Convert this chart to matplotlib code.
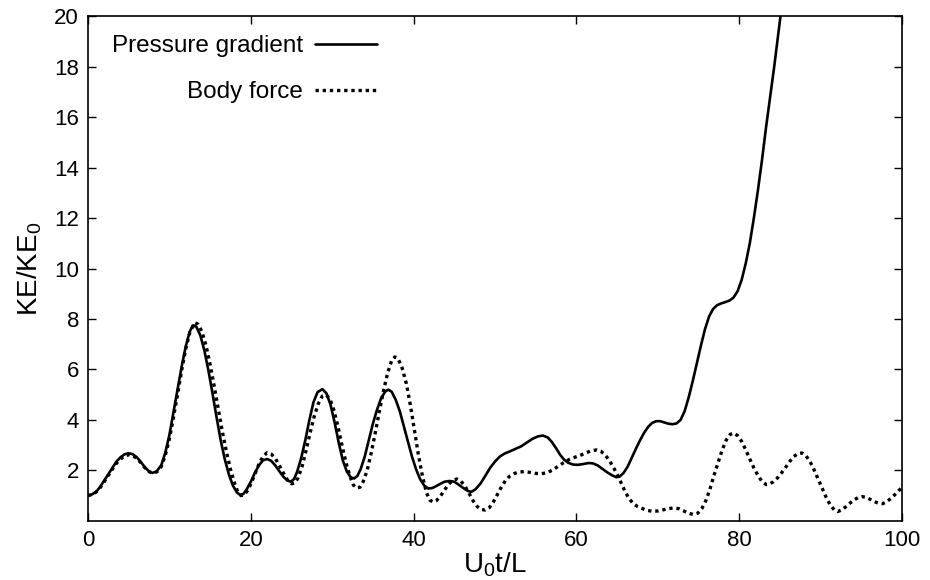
import matplotlib
matplotlib.use("Agg")
import matplotlib.pyplot as plt

plt.rcParams['font.family'] = ['Liberation Sans', 'DejaVu Sans']
plt.rcParams['mathtext.fontset'] = 'custom'
plt.rcParams['mathtext.rm'] = 'Liberation Sans'
plt.rcParams['mathtext.it'] = 'Liberation Sans'

# Pressure gradient (solid)
pg_t = [0, 0.5, 1, 1.5, 2, 2.5, 3, 3.5, 4, 4.5, 5, 5.5, 6, 6.5, 7, 7.5, 7.9, 8.4,
        9, 9.5, 10, 10.5, 11, 11.5, 12, 12.5, 12.9, 13.3, 13.8, 14.3, 14.8, 15.3,
        15.8, 16.3, 16.8, 17.3, 17.8, 18.3, 18.7, 19.1, 19.5, 20, 20.5, 21, 21.5,
        22, 22.5, 23, 23.5, 24, 24.5, 24.9, 25.3, 25.7, 26.2, 26.7, 27.2, 27.7,
        28.2, 28.8, 29.3, 29.8, 30.3, 30.8, 31.3, 31.8, 32.3, 32.7, 33.1, 33.5,
        34, 34.5, 35, 35.5, 36, 36.5, 36.9, 37.3, 37.8, 38.3, 38.8, 39.3, 39.8,
        40.3, 40.8, 41.3, 41.8, 42.3, 42.8, 43.3, 43.8, 44.4, 45, 45.6, 46.2,
        46.7, 47.1, 47.6, 48.2, 48.8, 49.4, 50, 50.6, 51.2, 51.8, 52.5, 53.2,
        53.9, 54.6, 55.3, 55.9, 56.5, 57, 57.5, 58, 58.5, 59, 59.6, 60.2, 60.8,
        61.5, 62, 62.6, 63.2, 63.8, 64.4, 64.9, 65.3, 65.8, 66.3, 66.8, 67.3,
        67.8, 68.3, 68.8, 69.3, 69.8, 70.3, 70.8, 71.3, 71.8, 72.3, 72.8, 73.3,
        73.8, 74.3, 74.8, 75.3, 75.8, 76.3, 76.8, 77.3, 77.8, 78.3, 78.8, 79.3,
        79.8, 80.3, 80.8, 81.3, 81.8, 82.3, 82.8, 83.3, 83.8, 84.3, 84.8, 85.3,
        86]
pg_ke = [1.0, 1.05, 1.15, 1.35, 1.6, 1.85, 2.1, 2.35, 2.52, 2.64, 2.68, 2.64,
         2.52, 2.33, 2.12, 1.96, 1.9, 1.95, 2.2, 2.7, 3.4, 4.3, 5.2, 6.1, 6.9,
         7.5, 7.75, 7.7, 7.35, 6.75, 5.95, 5.05, 4.1, 3.2, 2.45, 1.85, 1.4, 1.12,
         1.03, 1.07, 1.25, 1.55, 1.9, 2.2, 2.4, 2.45, 2.38, 2.2, 1.97, 1.75, 1.6,
         1.55, 1.65, 1.95, 2.5, 3.2, 4.0, 4.7, 5.1, 5.22, 5.05, 4.6, 3.9, 3.1,
         2.4, 1.95, 1.72, 1.68, 1.78, 2.05, 2.55, 3.2, 3.85, 4.4, 4.85, 5.12,
         5.2, 5.12, 4.8, 4.35, 3.75, 3.15, 2.55, 2.05, 1.65, 1.4, 1.28, 1.3,
         1.38, 1.47, 1.55, 1.58, 1.55, 1.42, 1.28, 1.18, 1.15, 1.25, 1.47, 1.78,
         2.1, 2.35, 2.55, 2.67, 2.75, 2.85, 2.95, 3.1, 3.25, 3.35, 3.38, 3.3,
         3.12, 2.88, 2.62, 2.42, 2.3, 2.23, 2.22, 2.25, 2.29, 2.28, 2.2, 2.06,
         1.92, 1.8, 1.73, 1.75, 1.9, 2.15, 2.5, 2.85, 3.18, 3.48, 3.72, 3.88,
         3.95, 3.95, 3.9, 3.85, 3.83, 3.86, 4.0, 4.35, 4.9, 5.55, 6.25, 6.95,
         7.6, 8.1, 8.4, 8.55, 8.62, 8.67, 8.73, 8.85, 9.1, 9.55, 10.2, 11.0,
         12.0, 13.1, 14.3, 15.6, 16.8, 18.0, 19.3, 20.6, 22.3]

# Body force (dotted)
bf_t = [0, 0.5, 1, 1.5, 2, 2.5, 3, 3.5, 4, 4.5, 5, 5.5, 6, 6.5, 7, 7.5, 8, 8.5,
        9, 9.5, 10, 10.5, 11, 11.5, 12, 12.5, 13.1, 13.5, 14, 14.5, 15, 15.5,
        16, 16.5, 17, 17.5, 18, 18.4, 18.8, 19.2, 19.6, 20, 20.5, 21, 21.5, 22,
        22.5, 23, 23.5, 24, 24.5, 25, 25.4, 25.8, 26.3, 26.8, 27.3, 27.8, 28.3,
        28.8, 29.2, 29.7, 30.2, 30.7, 31.2, 31.7, 32.2, 32.6, 33, 33.4, 33.8,
        34.3, 34.8, 35.3, 35.8, 36.3, 36.8, 37.3, 37.7, 38.1, 38.6, 39.1, 39.6,
        40.1, 40.6, 41.1, 41.6, 42, 42.4, 42.8, 43.3, 43.8, 44.3, 44.8, 45.3,
        45.8, 46.3, 46.8, 47.3, 47.8, 48.3, 48.8, 49.3, 49.8, 50.3, 50.8, 51.3,
        51.8, 52.4, 53, 53.6, 54.3, 55, 55.7, 56.3, 57, 57.7, 58.4, 59.1, 59.8,
        60.5, 61.2, 61.9, 62.5, 63, 63.5, 64, 64.5, 65, 65.5, 66, 66.5, 67,
        67.5, 68, 68.6, 69.3, 70, 70.7, 71.4, 72, 72.6, 73.2, 73.8, 74.4, 74.9,
        75.4, 75.9, 76.4, 76.9, 77.4, 77.9, 78.4, 78.9, 79.3, 79.8, 80.3, 80.8,
        81.3, 81.8, 82.3, 82.8, 83.3, 83.7, 84.2, 84.7, 85.2, 85.7, 86.2, 86.7,
        87.2, 87.7, 88.2, 88.7, 89.2, 89.7, 90.2, 90.7, 91.2, 91.7, 92.1, 92.6,
        93.1, 93.6, 94.1, 94.6, 95.1, 95.6, 96.1, 96.6, 97.1, 97.6, 98.1, 98.6,
        99.1, 99.6, 100]
bf_ke = [1.0, 1.04, 1.14, 1.32, 1.55, 1.8, 2.05, 2.28, 2.45, 2.57, 2.62, 2.58,
         2.48, 2.3, 2.1, 1.95, 1.88, 1.95, 2.15, 2.6, 3.25, 4.1, 5.0, 5.95, 6.8,
         7.45, 7.85, 7.8, 7.5, 6.95, 6.2, 5.35, 4.45, 3.55, 2.75, 2.05, 1.5,
         1.15, 1.0, 1.03, 1.2, 1.45, 1.85, 2.25, 2.55, 2.7, 2.65, 2.48, 2.2, 1.9,
         1.62, 1.47, 1.5, 1.7, 2.15, 2.8, 3.5, 4.15, 4.65, 4.95, 5.0, 4.85, 4.4,
         3.75, 3.0, 2.3, 1.75, 1.42, 1.3, 1.33, 1.55, 2.0, 2.7, 3.5, 4.35, 5.15,
         5.85, 6.35, 6.5, 6.42, 6.05, 5.45, 4.6, 3.6, 2.6, 1.75, 1.1, 0.82, 0.75,
         0.8, 0.98, 1.22, 1.45, 1.6, 1.66, 1.58, 1.38, 1.1, 0.8, 0.57, 0.45,
         0.43, 0.52, 0.75, 1.05, 1.35, 1.6, 1.77, 1.88, 1.94, 1.95, 1.92, 1.88,
         1.87, 1.9, 2.0, 2.15, 2.3, 2.43, 2.52, 2.6, 2.7, 2.78, 2.81, 2.76, 2.62,
         2.42, 2.15, 1.85, 1.5, 1.15, 0.87, 0.68, 0.57, 0.5, 0.42, 0.38, 0.39,
         0.44, 0.49, 0.51, 0.48, 0.39, 0.3, 0.25, 0.3, 0.48, 0.8, 1.25, 1.8, 2.3,
         2.8, 3.2, 3.43, 3.48, 3.38, 3.15, 2.82, 2.45, 2.1, 1.8, 1.56, 1.44,
         1.45, 1.55, 1.7, 1.9, 2.12, 2.35, 2.55, 2.66, 2.69, 2.58, 2.35, 2.02,
         1.65, 1.28, 0.92, 0.62, 0.43, 0.37, 0.43, 0.56, 0.7, 0.83, 0.92, 0.96,
         0.93, 0.85, 0.76, 0.7, 0.68, 0.75, 0.88, 1.03, 1.2, 1.32]

x_ticks = [0, 20, 40, 60, 80, 100]
y_ticks = [2, 4, 6, 8, 10, 12, 14, 16, 18, 20]

fig = plt.figure(figsize=(9.3, 5.8), dpi=100)
ax = fig.add_axes([0.0946, 0.102, 0.8753, 0.870])

ax.plot(pg_t, pg_ke, color='black', lw=1.9, label='Pressure gradient',
        solid_joinstyle='round', solid_capstyle='round')
ax.plot(bf_t, bf_ke, color='black', lw=2.4, linestyle=(0, (1.0, 1.15)),
        label='Body force')

ax.set_xlim(0, 100)
ax.set_ylim(0, 20)
ax.set_xticks(x_ticks)
ax.set_yticks(y_ticks)
ax.tick_params(direction='in', length=5.5, width=1, labelsize=16,
               top=True, right=True, pad=6.5)
for s in ax.spines.values():
    s.set_linewidth(1.2)

ax.set_xlabel(r'U$_0$t/L', fontsize=20, labelpad=0)
ax.set_ylabel(r'KE/KE$_0$', fontsize=20, labelpad=7)

ax.legend(loc='upper right', bbox_to_anchor=(0.355, 0.962), frameon=False,
          markerfirst=False, fontsize=17.5, handlelength=2.55,
          handletextpad=0.5, labelspacing=0.98, borderaxespad=0, borderpad=0)

fig.savefig('out.png', dpi=100)
